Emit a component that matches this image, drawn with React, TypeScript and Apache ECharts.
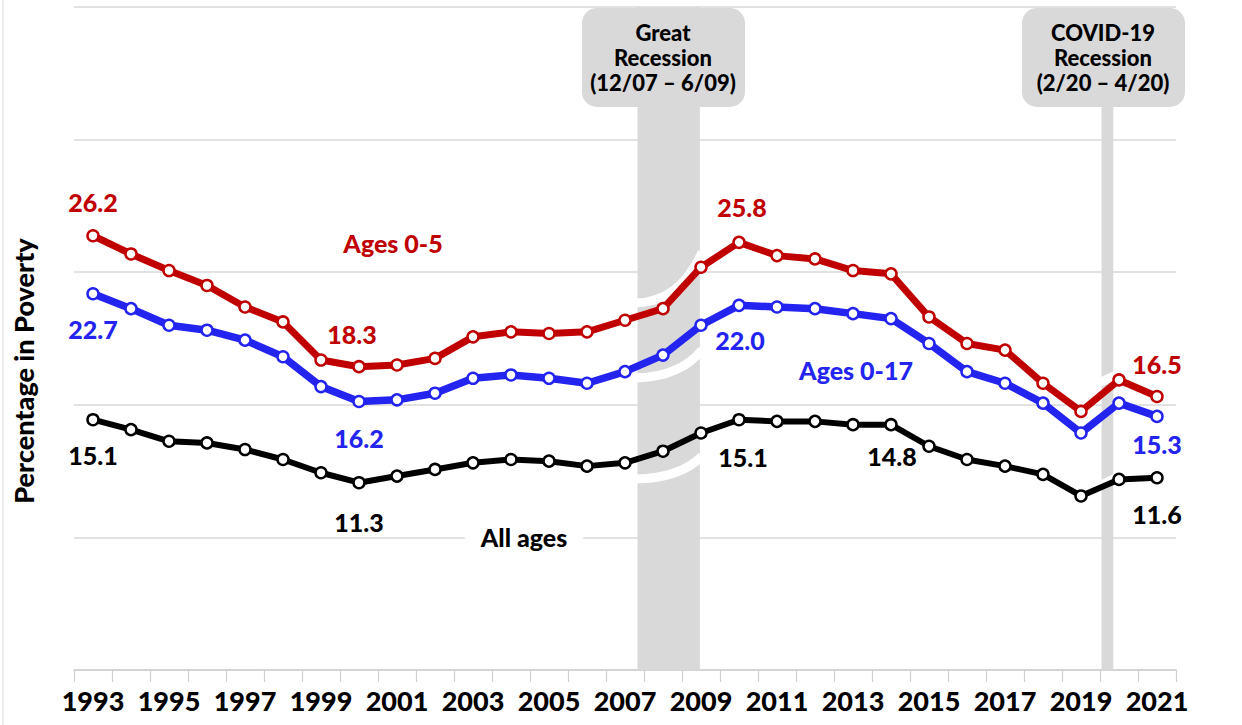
import React, { useEffect, useRef } from "react";
import * as echarts from "echarts";

const years = ["1993","1994","1995","1996","1997","1998","1999","2000","2001","2002","2003","2004","2005","2006","2007","2008","2009","2010","2011","2012","2013","2014","2015","2016","2017","2018","2019","2020","2021"];

const ages0to5 = [26.2, 25.1, 24.1, 23.2, 21.9, 21.0, 18.7, 18.3, 18.4, 18.8, 20.1, 20.4, 20.3, 20.4, 21.1, 21.8, 24.3, 25.8, 25.0, 24.8, 24.1, 23.9, 21.3, 19.7, 19.3, 17.3, 15.6, 17.5, 16.5];
const ages0to17 = [22.7, 21.8, 20.8, 20.5, 19.9, 18.9, 17.1, 16.2, 16.3, 16.7, 17.6, 17.8, 17.6, 17.3, 18.0, 19.0, 20.8, 22.0, 21.9, 21.8, 21.5, 21.2, 19.7, 18.0, 17.3, 16.1, 14.3, 16.1, 15.3];
const allAges = [15.1, 14.5, 13.8, 13.7, 13.3, 12.7, 11.9, 11.3, 11.7, 12.1, 12.5, 12.7, 12.6, 12.3, 12.5, 13.2, 14.3, 15.1, 15.0, 15.0, 14.8, 14.8, 13.5, 12.7, 12.3, 11.8, 10.5, 11.5, 11.6];

// recession bands: [startYear, endYear, top, bottom] on a continuous year scale
const recessionBands = [
  [2007.33, 2008.97, 40, 0],
  [2019.54, 2019.85, 34, 0],
];
// break marks: [x0, y0, cx, cy, x1, y1]
const breakMarks = [
  [2007.29, 22.14, 2008.45, 22.2, 2009.03, 25.22],
  [2007.29, 17.62, 2008.45, 17.68, 2009.03, 19.31],
  [2007.29, 11.52, 2008.45, 11.58, 2009.03, 12.91],
  [2019.47, 17.32, 2019.7, 17.56, 2019.92, 17.8],
  [2019.47, 11.1, 2019.7, 11.34, 2019.92, 11.58],
];

const RED = "#c00000";
const BLUE = "#2424f0";
const BLACK = "#000000";
const FONT = "Lato, 'Noto Sans', sans-serif";
const W = 900;

// label offsets per point index
const redLabels: Record<number, number[]> = { 0: [0, -34], 7: [-7, -33], 17: [3, -35], 28: [0, -33] };
const blueLabels: Record<number, number[]> = { 0: [0, 35], 7: [0, 37], 17: [1, 35], 28: [0, 28] };
const blackLabels: Record<number, number[]> = { 0: [0, 35], 7: [0, 39], 17: [4, 37], 21: [1, 31], 28: [0, 36] };

function withLabels(values: number[], color: string, specs: Record<number, number[]>) {
  return values.map((v, i) =>
    specs[i]
      ? {
          value: v,
          label: {
            show: true,
            position: "inside",
            offset: specs[i],
            formatter: (p: any) => Number(p.value).toFixed(1),
            color,
            fontSize: 25,
            fontWeight: W,
            fontFamily: FONT,
          },
        }
      : v
  );
}

function lineSeries(name: string, values: number[], color: string, width: number, specs: Record<number, number[]>) {
  return {
    name,
    type: "line",
    xAxisIndex: 0,
    yAxisIndex: 0,
    data: withLabels(values, color, specs),
    symbol: "circle",
    symbolSize: 11,
    z: 5,
    lineStyle: { color, width },
    itemStyle: { color: "#ffffff", borderColor: color, borderWidth: 2.5 },
    label: { show: false },
  };
}

export default function App() {
  const ref = useRef<HTMLDivElement>(null);
  useEffect(() => {
    if (!ref.current) return;
    const chart = echarts.init(ref.current, null, { renderer: "svg" });
    const option: any = {
      animation: false,
      grid: { left: 74, right: 66, top: 7, bottom: 55, containLabel: false },
      xAxis: [
        {
          type: "category",
          data: years,
          boundaryGap: true,
          axisLine: { lineStyle: { color: "#d0d0d0", width: 1.5 } },
          axisTick: { show: true, interval: 0, length: 12, lineStyle: { color: "#d0d0d0", width: 1.2 } },
          axisLabel: { interval: 1, margin: 17, color: "#000", fontSize: 27, fontWeight: W, fontFamily: FONT },
          splitLine: { show: false },
        },
        { type: "value", min: 1992.5, max: 2021.5, show: false },
      ],
      yAxis: {
        type: "value",
        min: 0,
        max: 40,
        interval: 8,
        axisLabel: { show: false },
        axisLine: { show: false },
        axisTick: { show: false },
        splitLine: { lineStyle: { color: "#d9d9d9", width: 1.5 } },
      },
      series: [
        {
          type: "custom",
          xAxisIndex: 1,
          yAxisIndex: 0,
          z: 1,
          clip: false,
          silent: true,
          encode: { x: [0, 1], y: [2, 3] },
          data: recessionBands,
          renderItem: (params: any, api: any) => {
            const p0 = api.coord([api.value(0), api.value(2)]);
            const p1 = api.coord([api.value(1), api.value(3)]);
            return {
              type: "rect",
              shape: { x: p0[0], y: p0[1], width: p1[0] - p0[0], height: p1[1] - p0[1] },
              style: { fill: "#d9d9d9" },
            };
          },
        },
        {
          type: "custom",
          xAxisIndex: 1,
          yAxisIndex: 0,
          z: 2,
          clip: false,
          silent: true,
          encode: { x: [0, 2, 4], y: [1, 3, 5] },
          data: breakMarks,
          renderItem: (params: any, api: any) => {
            const a = api.coord([api.value(0), api.value(1)]);
            const c = api.coord([api.value(2), api.value(3)]);
            const b = api.coord([api.value(4), api.value(5)]);
            return {
              type: "bezierCurve",
              shape: { x1: a[0], y1: a[1], cpx1: c[0], cpy1: c[1], x2: b[0], y2: b[1] },
              style: { stroke: "#ffffff", lineWidth: 9, fill: "none" },
            };
          },
        },
        lineSeries("Ages 0-5", ages0to5, RED, 7, redLabels),
        lineSeries("Ages 0-17", ages0to17, BLUE, 7.5, blueLabels),
        lineSeries("All ages", allAges, BLACK, 6, blackLabels),
      ],
      graphic: [
        { type: "line", z: 100, shape: { x1: 3, y1: 0, x2: 3, y2: 725 }, style: { stroke: "#d9d9d9", lineWidth: 1 } },
        { type: "rect", z: 100, shape: { x: 582, y: 8, width: 163, height: 99, r: 15 }, style: { fill: "#d9d9d9" } },
        {
          type: "text", z: 101, x: 663, y: 57,
          style: { text: "Great\nRecession\n(12/07 – 6/09)", fill: "#000", font: `${W} 22px ${FONT}`, lineHeight: 25, align: "center", verticalAlign: "middle" },
        },
        { type: "rect", z: 100, shape: { x: 1022, y: 8, width: 163, height: 99, r: 15 }, style: { fill: "#d9d9d9" } },
        {
          type: "text", z: 101, x: 1103, y: 57,
          style: { text: "COVID-19\nRecession\n(2/20 – 4/20)", fill: "#000", font: `${W} 22px ${FONT}`, lineHeight: 25, align: "center", verticalAlign: "middle" },
        },
        {
          type: "text", z: 101, x: 23, y: 371, rotation: Math.PI / 2,
          style: { text: "Percentage in Poverty", fill: "#000", font: `${W} 27px ${FONT}`, align: "center", verticalAlign: "middle" },
        },
        {
          type: "text", z: 101, x: 393, y: 243,
          style: { text: "Ages 0-5", fill: RED, font: `${W} 25px ${FONT}`, align: "center", verticalAlign: "middle" },
        },
        {
          type: "text", z: 101, x: 856, y: 370,
          style: { text: "Ages 0-17", fill: BLUE, font: `${W} 25px ${FONT}`, align: "center", verticalAlign: "middle" },
        },
        {
          type: "text", z: 101, x: 524, y: 537,
          style: { text: "All ages", fill: BLACK, font: `${W} 25px ${FONT}`, align: "center", verticalAlign: "middle", backgroundColor: "#ffffff", padding: [2, 16] },
        },
      ],
    };
    chart.setOption(option);
    return () => chart.dispose();
  }, []);
  return <div ref={ref} style={{ position: "absolute", left: 0, top: 0, width: 1242, height: 725 }} />;
}
